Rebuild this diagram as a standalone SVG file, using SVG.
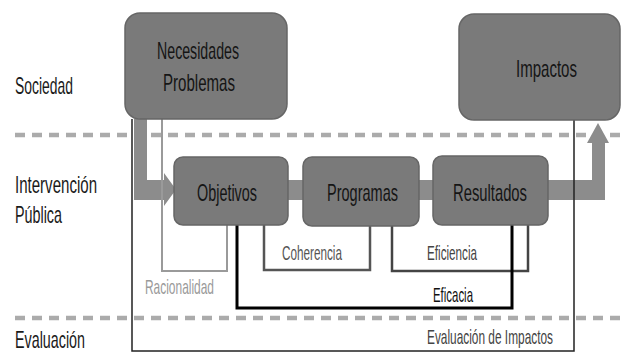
<svg xmlns="http://www.w3.org/2000/svg" width="622" height="353" viewBox="0 0 622 353">
<style>
.bg{fill:#ffffff}
.dash{stroke:#ababab;stroke-width:4.5;stroke-dasharray:10 7;fill:none}
.band{fill:#8c8c8c}
.box{fill:#7a7a7a;stroke:#666666;stroke-width:1.5}
.lbl{font-family:"Liberation Sans",Arial,sans-serif;font-size:24px;fill:#151515}
.side{font-family:"Liberation Sans",Arial,sans-serif;font-size:24px;fill:#1a1a1a}
.small{font-family:"Liberation Sans",Arial,sans-serif;font-size:21px}
.ln{fill:none}
</style>
<rect class="bg" x="0" y="0" width="622" height="353"/>
<g id="swimlanes">
<line class="dash" x1="15" y1="135" x2="622" y2="135"/>
<line class="dash" x1="15" y1="318" x2="622" y2="318"/>
<text class="side" x="15" y="94" textLength="58" lengthAdjust="spacingAndGlyphs">Sociedad</text>
<text class="side" x="15" y="193" textLength="82" lengthAdjust="spacingAndGlyphs">Intervención</text>
<text class="side" x="15" y="223" textLength="47" lengthAdjust="spacingAndGlyphs">Pública</text>
<text class="side" x="15" y="348" textLength="70" lengthAdjust="spacingAndGlyphs">Evaluación</text>
</g>
<g id="connectors">
<path class="band" d="M134,119 V200 H164 V206 L176,189.5 L164,173 V180 H147 V119 Z"/>
<rect class="band" x="285" y="180" width="155" height="20"/>
<path class="band" d="M545,180 H592 V143 H587 L598,123 L609,143 H605 V200 H545 Z"/>
<path class="ln" d="M162,119 V271 H227 V225" stroke="#9a9a9a" stroke-width="2"/>
<path class="ln" d="M264,225 V270 H370 V226" stroke="#555555" stroke-width="2.5"/>
<path class="ln" d="M392,226 V271 H528 V225" stroke="#444444" stroke-width="2.5"/>
<path class="ln" d="M237,225 V308 H512 V225" stroke="#000000" stroke-width="3"/>
<path class="ln" d="M132,119 V351 H574 V120" stroke="#222222" stroke-width="1.5"/>
<text class="small" x="282" y="260" fill="#555555" textLength="60" lengthAdjust="spacingAndGlyphs">Coherencia</text>
<text class="small" x="145" y="294" fill="#9a9a9a" textLength="69" lengthAdjust="spacingAndGlyphs">Racionalidad</text>
<text class="small" x="427" y="260" fill="#444444" textLength="50" lengthAdjust="spacingAndGlyphs">Eficiencia</text>
<text class="small" x="433" y="302" fill="#111111" textLength="40" lengthAdjust="spacingAndGlyphs">Eficacia</text>
<text class="small" x="427" y="344" fill="#444444" textLength="126" lengthAdjust="spacingAndGlyphs">Evaluación de Impactos</text>
</g>
<g id="necesidades">
<rect class="box" x="125" y="13" width="162" height="106" rx="15"/>
<text class="lbl" x="157" y="59" textLength="82" lengthAdjust="spacingAndGlyphs">Necesidades</text>
<text class="lbl" x="163" y="91" textLength="72" lengthAdjust="spacingAndGlyphs">Problemas</text>
</g>
<g id="impactos">
<rect class="box" x="459" y="14" width="161" height="106" rx="15"/>
<text class="lbl" x="516" y="77" textLength="61" lengthAdjust="spacingAndGlyphs">Impactos</text>
</g>
<g id="objetivos">
<rect class="box" x="174" y="157" width="114" height="68" rx="9"/>
<text class="lbl" x="197" y="201" textLength="60" lengthAdjust="spacingAndGlyphs">Objetivos</text>
</g>
<g id="programas">
<rect class="box" x="303" y="157" width="116" height="69" rx="9"/>
<text class="lbl" x="327" y="201" textLength="71" lengthAdjust="spacingAndGlyphs">Programas</text>
</g>
<g id="resultados">
<rect class="box" x="433" y="156" width="115" height="69" rx="9"/>
<text class="lbl" x="453" y="201" textLength="74" lengthAdjust="spacingAndGlyphs">Resultados</text>
</g>
</svg>
